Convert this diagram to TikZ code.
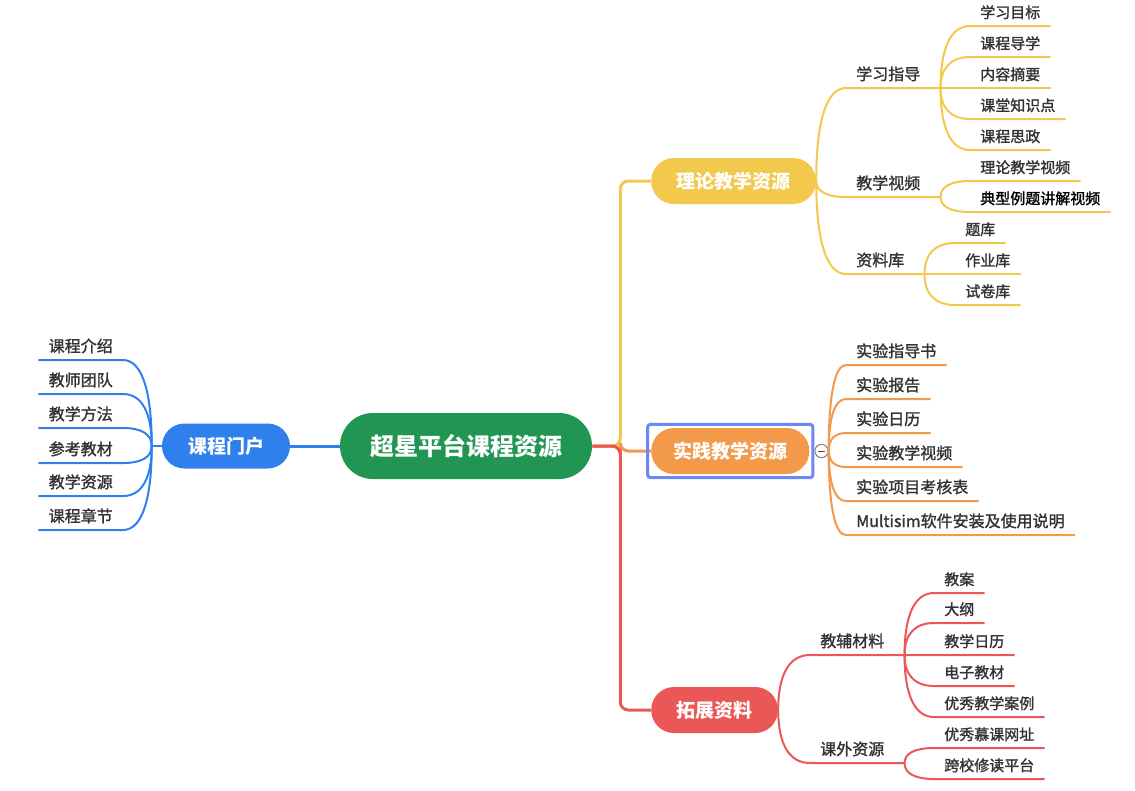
\documentclass[tikz,border=0pt]{standalone}
\usepackage{fontspec}
\setmainfont{Noto Sans CJK SC}
\newfontfamily\labelfont[FakeBold=1.5]{Noto Sans CJK SC}
\usepackage{tikz}
\usetikzlibrary{fit,calc}

\definecolor{rootgreen}{HTML}{219653}
\definecolor{portalblue}{HTML}{2F80ED}
\definecolor{theoryyellow}{HTML}{F2C94C}
\definecolor{practiceorange}{HTML}{F2994A}
\definecolor{extendred}{HTML}{EB5757}
\definecolor{labelgray}{HTML}{333333}
\definecolor{selectblue}{HTML}{6D87F7}

\begin{document}
\begin{tikzpicture}[x=0.75pt, y=-0.75pt,
  pill/.style={rectangle, rounded corners=17pt, minimum height=34.5pt, inner xsep=19pt, inner ysep=0pt,
    text=white, font=\fontsize{14.25}{16}\selectfont\bfseries, text height=12.2pt, text depth=1.4pt},
  topic/.style={anchor=south west, inner xsep=7.5pt, inner ysep=3.5pt, text=labelgray,
    font=\labelfont\fontsize{12}{14}\selectfont, text height=9.4pt, text depth=2.3pt},
  leaf/.style={topic, font=\labelfont\fontsize{11.25}{13}\selectfont},
  trunk/.style={line width=2.25pt, rounded corners=6pt},
  branch/.style={line width=1.5pt},
  fold/.style={circle, draw=gray, fill=white, line width=0.75pt, minimum size=10pt, inner sep=0pt},
]
\useasboundingbox (0,0) rectangle (1135,790);

% central topic and the portal on the left
\node[pill, fill=rootgreen, minimum height=49.5pt, rounded corners=24.7pt, inner xsep=22.5pt,
  font=\fontsize{18}{20}\selectfont\bfseries, text height=15.5pt, text depth=1.8pt] (root) at (466,446) {超星平台课程资源};
\node[pill, fill=portalblue, minimum height=33.75pt, rounded corners=16.8pt, inner xsep=19.5pt] (portal) at (226,446) {课程门户};

% first level on the right
\node[pill, fill=theoryyellow, anchor=west] (theory) at (651,181) {理论教学资源};
\node[pill, fill=practiceorange, anchor=west, inner xsep=0pt, minimum width=118.5pt] (practice) at (651,451) {实践教学资源};
\node[pill, fill=extendred, anchor=west] (extend) at (651,710) {拓展资料};

\draw[trunk, theoryyellow] (root.east) -- ++(28,0) |- (theory.west);
\draw[trunk, practiceorange] (root.east) -- ++(28,0) |- (practice.west);
\draw[trunk, extendred] (root.east) -- ++(28,0) |- (extend.west);
\draw[trunk, portalblue] (root.west) -- (portal.east);

% selected topic
\node[draw=selectblue, line width=2.25pt, rounded corners=2pt, inner sep=2.5pt, fit=(practice)] (practicesel) {};
\node[fold, anchor=west, text=gray!60!black] (fold) at (practicesel.east) {\rule{5pt}{0.7pt}};

% portal
\node[topic, anchor=south east] (intro) at (123,360) {课程介绍};
\node[topic, anchor=south east] (team) at (123,394) {教师团队};
\node[topic, anchor=south east] (method) at (123,428) {教学方法};
\node[topic, anchor=south east] (textbook) at (123,463) {参考教材};
\node[topic, anchor=south east] (resource) at (123,496) {教学资源};
\node[topic, anchor=south east] (chapter) at (123,530) {课程章节};

\draw[branch, portalblue] (portal.west) -- ++(-10,0) coordinate (portal-fan);
\foreach \c in {intro, team, method, textbook, resource, chapter}
  \draw[branch, portalblue] (portal-fan)
    .. controls ($(portal-fan)!0.65!(portal-fan |- \c.south east)$) and ($(\c.south east)!0.65!(portal-fan |- \c.south east)$)
    .. (\c.south east) -- (\c.south west);

% theory resources
\node[topic] (guide) at (846,88) {学习指导};
\node[topic] (video) at (846,197) {教学视频};
\node[topic] (bank) at (846,274) {资料库};

\foreach \n in {guide, video, bank}
  \draw[branch, theoryyellow] (theory.east)
    .. controls ($(theory.east)!0.65!(theory.east |- \n.south west)$) and ($(\n.south west)!0.65!(theory.east |- \n.south west)$)
    .. (\n.south west) -- (\n.south east) -- ++(10,0) coordinate (\n-fan);

\node[leaf] (aim) at (970,26) {学习目标};
\node[leaf] (lead) at (970,57) {课程导学};
\node[leaf] (summary) at (970,88) {内容摘要};
\node[leaf] (point) at (970,119) {课堂知识点};
\node[leaf] (ideology) at (970,150) {课程思政};
\node[leaf] (theoryvid) at (970,181) {理论教学视频};
\node[leaf, text=black] (examplevid) at (970,212) {典型例题讲解视频};
\node[leaf] (questions) at (955,243) {题库};
\node[leaf] (homework) at (955,274) {作业库};
\node[leaf] (papers) at (955,305) {试卷库};

\foreach \p/\c in {guide/aim, guide/lead, guide/summary, guide/point, guide/ideology,
    video/theoryvid, video/examplevid, bank/questions, bank/homework, bank/papers}
  \draw[branch, theoryyellow] (\p-fan)
    .. controls ($(\p-fan)!0.65!(\p-fan |- \c.south west)$) and ($(\c.south west)!0.65!(\p-fan |- \c.south west)$)
    .. (\c.south west) -- (\c.south east);

% practice resources
\node[topic] (manual) at (846,365) {实验指导书};
\node[topic] (report) at (846,399) {实验报告};
\node[topic] (labcal) at (846,433) {实验日历};
\node[topic] (labvid) at (846,467) {实验教学视频};
\node[topic] (assess) at (846,501) {实验项目考核表};
\node[topic] (multisim) at (846,535) {Multisim软件安装及使用说明};

\foreach \c in {manual, report, labcal, labvid, assess, multisim}
  \draw[branch, practiceorange] (fold.east)
    .. controls ($(fold.east)!0.65!(fold.east |- \c.south west)$) and ($(\c.south west)!0.65!(fold.east |- \c.south west)$)
    .. (\c.south west) -- (\c.south east);

% extended material
\node[topic] (aids) at (810,655) {教辅材料};
\node[topic] (outside) at (810,763) {课外资源};

\foreach \n in {aids, outside}
  \draw[branch, extendred] (extend.east)
    .. controls ($(extend.east)!0.65!(extend.east |- \n.south west)$) and ($(\n.south west)!0.65!(extend.east |- \n.south west)$)
    .. (\n.south west) -- (\n.south east) -- ++(10,0) coordinate (\n-fan);

\node[leaf] (plan) at (934,593) {教案};
\node[leaf] (outline) at (934,623) {大纲};
\node[leaf] (teachcal) at (934,655) {教学日历};
\node[leaf] (ebook) at (934,686) {电子教材};
\node[leaf] (cases) at (934,717) {优秀教学案例};
\node[leaf] (mooc) at (934,748) {优秀慕课网址};
\node[leaf] (crossschool) at (934,779) {跨校修读平台};

\foreach \p/\c in {aids/plan, aids/outline, aids/teachcal, aids/ebook, aids/cases,
    outside/mooc, outside/crossschool}
  \draw[branch, extendred] (\p-fan)
    .. controls ($(\p-fan)!0.65!(\p-fan |- \c.south west)$) and ($(\c.south west)!0.65!(\p-fan |- \c.south west)$)
    .. (\c.south west) -- (\c.south east);
\end{tikzpicture}
\end{document}
